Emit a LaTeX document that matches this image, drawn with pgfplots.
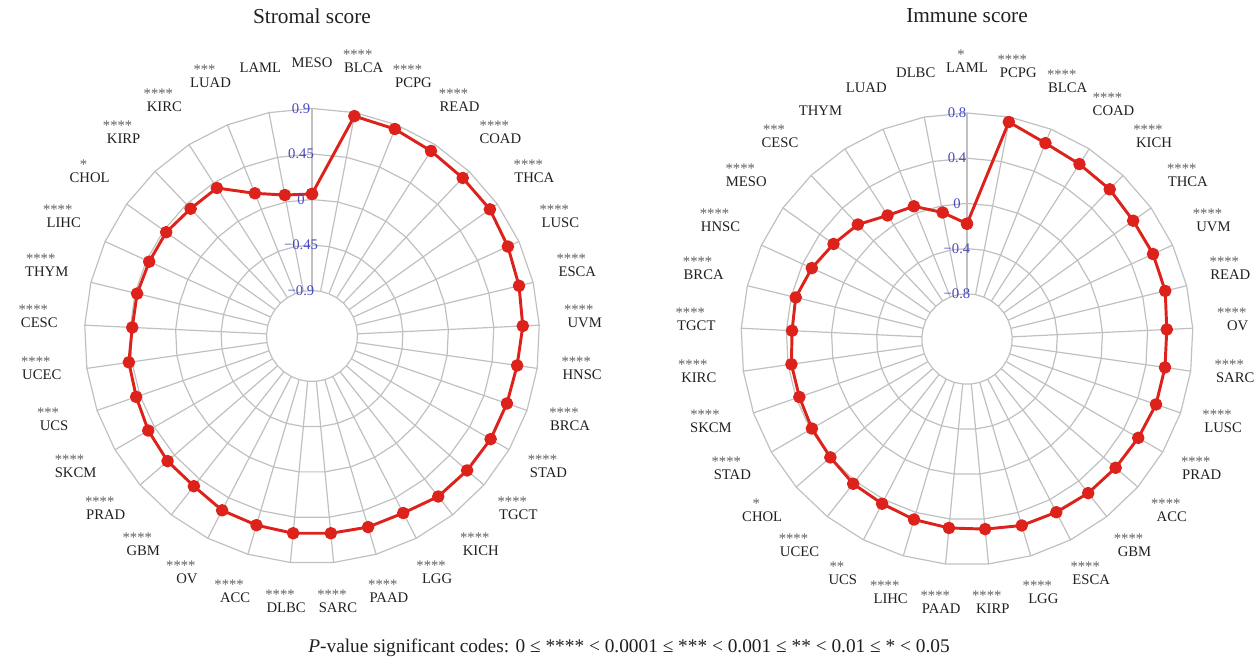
\documentclass[border=0pt]{standalone}
\usepackage{pgfplots}
\pgfplotsset{compat=1.18}
\usepackage{pgfplotstable}
\usepackage{fontspec}
\setmainfont{Liberation Serif}

\definecolor{rl}{RGB}{221,34,28}
\definecolor{gl}{RGB}{192,192,192}
\definecolor{tb}{RGB}{72,72,190}
\definecolor{st}{RGB}{95,95,95}
\definecolor{tx}{RGB}{35,31,32}

% Stromal score, categories clockwise from top (index i)
\pgfplotstableread{
i v
0 0.055
1 0.865
2 0.855
3 0.826
4 0.81
5 0.81
6 0.78
7 0.757
8 0.737
9 0.70
10 0.69
11 0.69
12 0.68
13 0.67
14 0.62
15 0.62
16 0.61
17 0.61
18 0.60
19 0.59
20 0.54
21 0.54
22 0.52
23 0.49
24 0.48
25 0.43
26 0.43
27 0.42
28 0.42
29 0.39
30 0.39
31 0.17
32 0.07
33 0.055
}\stromal

% Immune score, categories clockwise from top (index i)
\pgfplotstableread{
i v
0 -0.18
1 0.756
2 0.667
3 0.64
4 0.63
5 0.605
6 0.61
7 0.605
8 0.57
9 0.57
10 0.57
11 0.55
12 0.54
13 0.535
14 0.525
15 0.52
16 0.49
17 0.48
18 0.465
19 0.44
20 0.43
21 0.40
22 0.385
23 0.37
24 0.37
25 0.35
26 0.36
27 0.31
28 0.25
29 0.20
30 0.10
31 0.065
32 -0.06
33 -0.18
}\immune

\begin{document}
\begin{tikzpicture}[x=0.75pt,y=0.75pt, font=\fontsize{11}{13}\selectfont]
\path[use as bounding box] (0,0) rectangle (1259,-667);

% ---------- left grid ----------
\begin{scope}[shift={(312,-336)}]
  \foreach \k in {1,...,5} {
    \draw[gl, line width=0.9pt, line join=round] plot[samples at={0,...,33}] ({90-\x*360/33}:{45.5*\k});
  }
  \foreach \j in {0,...,32} {
    \draw[gl, line width=0.9pt] ({90-\j*360/33}:45.5) -- ({90-\j*360/33}:227.5);
  }
\end{scope}

% ---------- right grid ----------
\begin{scope}[shift={(967,-339)}]
  \foreach \k in {1,...,5} {
    \draw[gl, line width=0.9pt, line join=round] plot[samples at={0,...,33}] ({90-\x*360/33}:{45.2*\k});
  }
  \foreach \j in {0,...,32} {
    \draw[gl, line width=0.9pt] ({90-\j*360/33}:45.2) -- ({90-\j*360/33}:226);
  }
\end{scope}

% ---------- left data ----------
\begin{axis}[at={(234pt,-252pt)}, anchor=center, hide axis, clip=false,
  x=75.83pt, y=75.83pt, xmin=-2.25, xmax=2.25, ymin=-2.25, ymax=2.25]
\addplot[rl, line width=2.2pt, line join=round, mark=*, mark size=3.6pt, mark options={solid}]
  table[x expr={(\thisrow{v}+1.35)*cos(90-\thisrow{i}*360/33)},
        y expr={(\thisrow{v}+1.35)*sin(90-\thisrow{i}*360/33)}] {\stromal};
\end{axis}

% ---------- right data ----------
\begin{axis}[at={(725.25pt,-254.25pt)}, anchor=center, hide axis, clip=false,
  x=84.75pt, y=84.75pt, xmin=-2, xmax=2, ymin=-2, ymax=2]
\addplot[rl, line width=2.2pt, line join=round, mark=*, mark size=3.6pt, mark options={solid}]
  table[x expr={(\thisrow{v}+1.2)*cos(90-\thisrow{i}*360/33)},
        y expr={(\thisrow{v}+1.2)*sin(90-\thisrow{i}*360/33)}] {\immune};
\end{axis}

% ---------- radial tick labels ----------
\node[tb] at (301,-336+227.5) {0.9};
\node[tb] at (301,-336+182) {0.45};
\node[tb] at (301,-336+136.5) {0};
\node[tb] at (301,-336+91) {−0.45};
\node[tb] at (301,-336+45.5) {−0.9};
\node[tb] at (957,-339+226) {0.8};
\node[tb] at (957,-339+180.8) {0.4};
\node[tb] at (957,-339+135.6) {0};
\node[tb] at (957,-339+90.4) {−0.4};
\node[tb] at (957,-339+45.2) {−0.8};

% ---------- category labels ----------
\begin{scope}[shift={(312,-336)}]
\foreach \n/\s [count=\c from 0] in {MESO/,BLCA/****,PCPG/****,READ/****,COAD/****,THCA/****,LUSC/****,ESCA/****,UVM/****,HNSC/****,BRCA/****,STAD/****,TGCT/****,KICH/****,LGG/****,PAAD/****,SARC/****,DLBC/****,ACC/****,OV/****,GBM/****,PRAD/****,SKCM/****,UCS/***,UCEC/****,CESC/****,THYM/****,LIHC/****,CHOL/*,KIRP/****,KIRC/****,LUAD/***,LAML/} {
  \node[tx, inner sep=0pt] (L) at ({90-\c*360/33}:273) {\n};
  \node[st, inner sep=0pt] at ([xshift=-4.5pt, yshift=9.8pt]L.center) {\s};
}
\end{scope}
\begin{scope}[shift={(967,-339)}]
\foreach \n/\s [count=\c from 0] in {LAML/*,PCPG/****,BLCA/****,COAD/****,KICH/****,THCA/****,UVM/****,READ/****,OV/****,SARC/****,LUSC/****,PRAD/****,ACC/****,GBM/****,ESCA/****,LGG/****,KIRP/****,PAAD/****,LIHC/****,UCS/**,UCEC/****,CHOL/*,STAD/****,SKCM/****,KIRC/****,TGCT/****,BRCA/****,HNSC/****,MESO/****,CESC/***,THYM/,LUAD/,DLBC/} {
  \node[tx, inner sep=0pt] (L) at ({90-\c*360/33}:271) {\n};
  \node[st, inner sep=0pt] at ([xshift=-4.5pt, yshift=9.8pt]L.center) {\s};
}
\end{scope}

% ---------- titles and caption ----------
\node[tx] at (312,-16) {\fontsize{16}{19}\selectfont Stromal score};
\node[tx] at (967,-16) {\fontsize{16}{19}\selectfont Immune score};
\node[tx] at (629,-648) {\fontsize{14.5}{17}\selectfont \textit{P}-value significant codes: 0 ≤ **** < 0.0001 ≤ *** < 0.001 ≤ ** < 0.01 ≤ * < 0.05};
\end{tikzpicture}
\end{document}
